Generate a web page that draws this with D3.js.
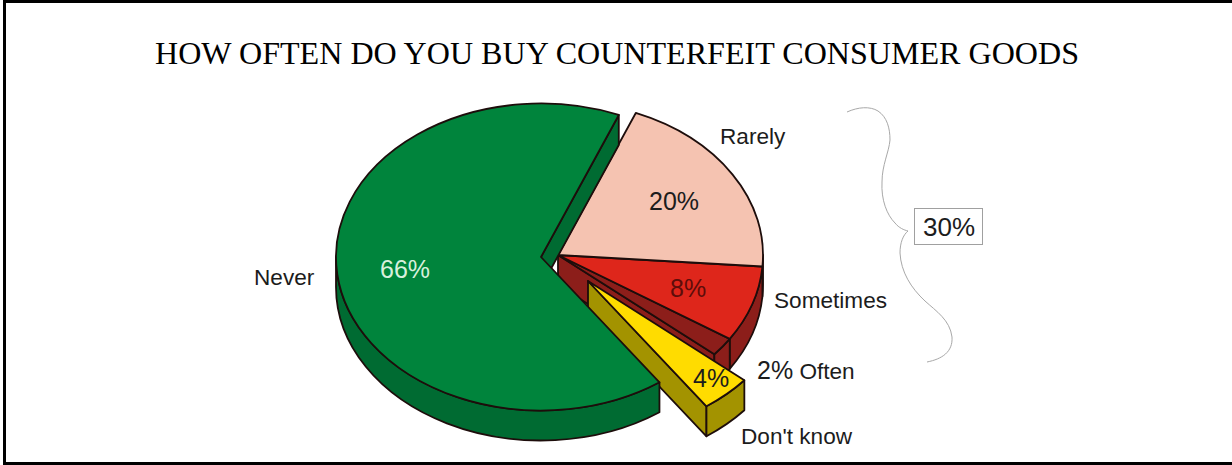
<!DOCTYPE html>
<html>
<head>
<meta charset="utf-8">
<script src="https://cdn.jsdelivr.net/npm/d3@7"></script>
<style>
  html, body { margin: 0; padding: 0; background: #fff; overflow: hidden; }
  svg { display: block; }
  text { font-family: "Liberation Sans", Arial, sans-serif; fill: #1c1c1c; }
</style>
</head>
<body>
<svg id="chart" width="1232" height="465"></svg>
<script>
const titleText = "HOW OFTEN DO YOU BUY COUNTERFEIT CONSUMER GOODS";
const categories = ["Rarely", "Sometimes", "Often", "Don't know", "Never"];
const shares = [20, 8, 2, 4, 66];
const topColors = ["#f5c3b1", "#de261b", "#8c1e1a", "#ffdc00", "#00843c"];
const sideColors = ["#8c1e1a", "#8c1e1a", "#8c1e1a", "#a39300", "#006b32"];
const bracketTotal = "30%";

const W = 1232, H = 465;
const rx = 205, ry = 153.5, depth = 30;
const firstAngle = 22.3 * Math.PI / 180;
const ink = "#1d0d0b";
const lineW = 1.8;

// Slice apex for the main body and for the two pulled-out wedges.
const apex = {
  "Rarely": [558, 255],
  "Sometimes": [558, 255],
  "Often": [558, 255],
  "Don't know": [588, 281],
  "Never": [541, 257]
};

const svg = d3.select("#chart");

// Page frame: top, left and bottom rules only.
svg.append("path")
  .attr("d", `M4.5 465V1.5H${W}M4.5 463.5H${W}`)
  .attr("fill", "none").attr("stroke", "#000").attr("stroke-width", 3);

const slices = d3.pie().sort(null)
  .startAngle(firstAngle).endAngle(firstAngle + 2 * Math.PI)(shares)
  .map((s, i) => ({ ...s, name: categories[i], top: topColors[i], side: sideColors[i], c: apex[categories[i]] }));

const rim = (c, a) => [c[0] + rx * Math.sin(a), c[1] - ry * Math.cos(a)];

// Top face: a d3.arc sector flattened into an ellipse.
const sector = d3.arc().innerRadius(0).outerRadius(rx);
function drawTop(s) {
  svg.append("path")
    .attr("d", sector(s))
    .attr("transform", `translate(${s.c[0]},${s.c[1]}) scale(1,${ry / rx})`)
    .attr("vector-effect", "non-scaling-stroke")
    .attr("fill", s.top).attr("stroke", ink).attr("stroke-width", lineW)
    .attr("stroke-linejoin", "round");
}

// Curved outer wall, limited to the half of the rim that faces the viewer.
function drawRimWall(s) {
  const a0 = Math.max(s.startAngle, Math.PI / 2);
  const a1 = Math.min(s.endAngle, 1.5 * Math.PI);
  if (a1 <= a0) return;
  const p0 = rim(s.c, a0), p1 = rim(s.c, a1);
  svg.append("path")
    .attr("d", `M${p0}A${rx} ${ry} 0 0 1 ${p1}L${p1[0]} ${p1[1] + depth}A${rx} ${ry} 0 0 0 ${p0[0]} ${p0[1] + depth}Z`)
    .attr("fill", s.side).attr("stroke", ink).attr("stroke-width", lineW)
    .attr("stroke-linejoin", "round");
}

// Flat cut face running from the apex out to the rim at angle a.
function drawCutWall(s, a) {
  const p = rim(s.c, a);
  svg.append("path")
    .attr("d", `M${s.c}L${p}L${p[0]} ${p[1] + depth}L${s.c[0]} ${s.c[1] + depth}Z`)
    .attr("fill", s.side).attr("stroke", ink).attr("stroke-width", lineW)
    .attr("stroke-linejoin", "round");
}

const [rarely, sometimes, often, dontKnow, never] = slices;

drawRimWall(rarely);
drawRimWall(sometimes);
drawCutWall(often, often.endAngle);
drawRimWall(often);
drawTop(often);
drawTop(sometimes);
drawTop(rarely);

drawCutWall(dontKnow, dontKnow.endAngle);
drawRimWall(dontKnow);
drawTop(dontKnow);

drawCutWall(never, never.endAngle);
drawRimWall(never);
drawTop(never);

// Title
svg.append("text")
  .attr("x", 617).attr("y", 64).attr("text-anchor", "middle")
  .style("font-family", '"Liberation Serif", "Times New Roman", serif')
  .style("font-size", "32.1px").style("fill", "#000")
  .text(titleText);

// Slice captions and percentages
const captions = [
  { t: "Rarely", x: 720, y: 144, s: 22.6 },
  { t: "Sometimes", x: 774, y: 308, s: 22.6 },
  { t: "Don't know", x: 741, y: 444, s: 22.6 },
  { t: "Never", x: 254, y: 285, s: 22.6 },
  { t: `${shares[0]}%`, x: 649, y: 210, s: 25 },
  { t: `${shares[1]}%`, x: 670, y: 297, s: 25, fill: "#5e0d0a" },
  { t: `${shares[3]}%`, x: 693, y: 387, s: 25 },
  { t: `${shares[4]}%`, x: 380, y: 278, s: 25, fill: "#d8f0dc" }
];
svg.selectAll("text.caption").data(captions).join("text")
  .attr("class", "caption")
  .attr("x", d => d.x).attr("y", d => d.y)
  .style("font-size", d => d.s + "px")
  .style("fill", d => d.fill || "#1c1c1c")
  .text(d => d.t);

// The smallest slice carries its share and its name on one line.
const oftenLabel = svg.append("text").attr("x", 757).attr("y", 379);
oftenLabel.append("tspan").style("font-size", "25px").text(`${shares[2]}%`);
oftenLabel.append("tspan").style("font-size", "22.6px").text(" Often");

// Brace grouping the three "at least rarely" answers
svg.append("path")
  .attr("d", "M847 112C858 107 870 106 878 111C887 117 890 128 890 140C889 152 882 165 882 182C881 200 887 215 895 223C899 228 904 230 908 231C903 235 900 243 900 253C901 272 911 288 925 301C936 311 950 320 952 337C953 352 942 359 927 362")
  .attr("fill", "none").attr("stroke", "#a8a8a8").attr("stroke-width", 1);

// Boxed total beside the brace
svg.append("rect")
  .attr("x", 914.5).attr("y", 208.5).attr("width", 68).attr("height", 36)
  .attr("fill", "#fff").attr("stroke", "#a0a0a0").attr("stroke-width", 1);
svg.append("text")
  .attr("x", 923).attr("y", 236)
  .style("font-size", "26px")
  .text(bracketTotal);
</script>
</body>
</html>
